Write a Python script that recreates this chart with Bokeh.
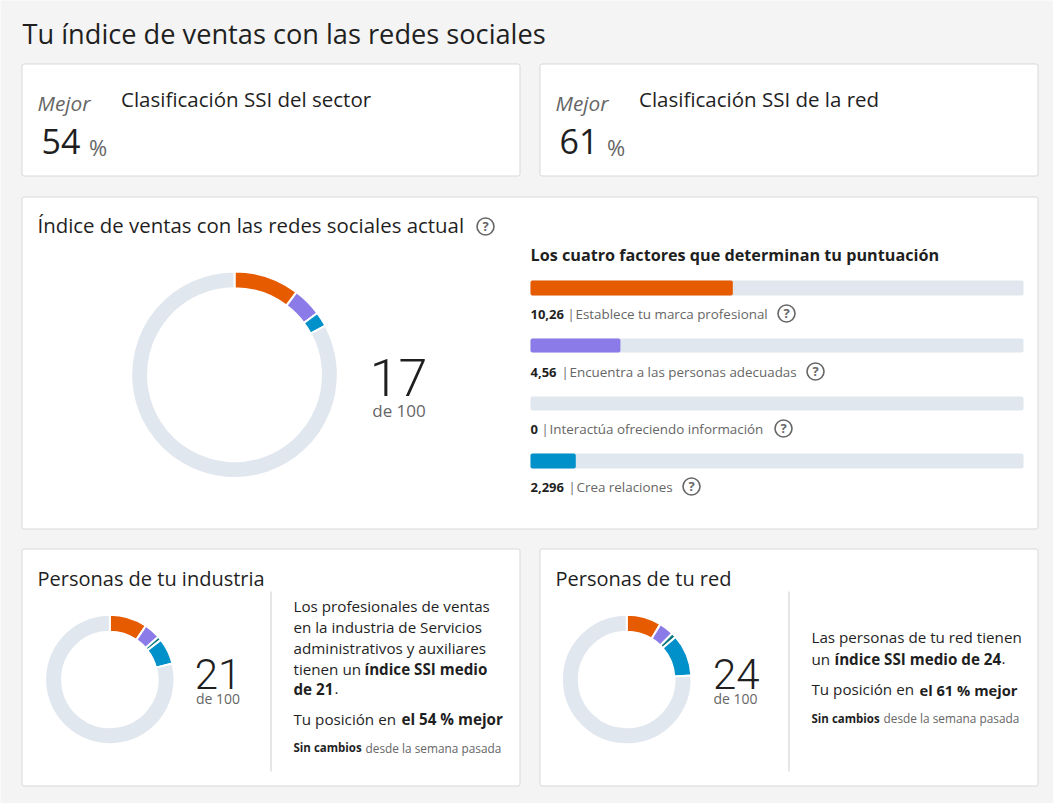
from math import pi
from bokeh.plotting import figure
from bokeh.embed import file_html
from bokeh.resources import INLINE
from bokeh.core.properties import value
from bokeh.models import Range1d

# ---- data ----
page_title = "Tu índice de ventas con las redes sociales"
rank_titles = ["Clasificación SSI del sector", "Clasificación SSI de la red"]
rank_values = [54, 61]
main_title = "Índice de ventas con las redes sociales actual"
factors_title = "Los cuatro factores que determinan tu puntuación"
factor_names = ["Establece tu marca profesional", "Encuentra a las personas adecuadas",
                "Interactúa ofreciendo información", "Crea relaciones"]
factor_values = [10.26, 4.56, 0, 2.296]
factor_labels = ["10,26", "4,56", "0", "2,296"]
factor_max = 25
main_score = 17
industry_values = [9.4, 4.1, 1.0, 6.5]
industry_score = 21
network_values = [8.7, 3.7, 1.2, 10.4]
network_score = 24
donut_total = 100

ORANGE, PURPLE, TEAL, BLUE, TRACK = "#e65a00", "#8a7be8", "#0d7a80", "#0091ca", "#e1e7ee"
main_colors = [ORANGE, PURPLE, BLUE]
peer_colors = [ORANGE, PURPLE, TEAL, BLUE]
BG, BORDER, INK, GREY = "#f4f4f4", "#d9d9d9", "#1f1f1f", "#666666"
FONT = "Open Sans"
LIGHT = "Roboto Light"

p = figure(width=1053, height=803, output_backend="svg", toolbar_location=None,
           x_range=Range1d(1, 1054), y_range=Range1d(804, 1),
           min_border=0, background_fill_color=BG, border_fill_color=BG, outline_line_color=None)
p.axis.visible = False
p.grid.visible = False


def txt(x, y, s, size, color=INK, style="normal", align="left", font=FONT):
    p.text([x], [y - 0.4 * size], text=[s], text_font=value(font), text_font_size=f"{size}px",
           text_font_style=style, text_color=color, text_align=align, text_baseline="alphabetic")


def card(l, t, r, b):
    p.quad(left=[l], right=[r], top=[t], bottom=[b], fill_color="white",
           line_color=BORDER, line_width=1, border_radius=2)


def ring(cx, cy, outer, inner, a, b, c):
    # values run clockwise from twelve o'clock
    sa = pi / 2 - 2 * pi * b / donut_total
    ea = pi / 2 - 2 * pi * a / donut_total
    p.annular_wedge([cx], [cy], inner_radius=inner - 1, outer_radius=outer + 1,
                    start_angle=[sa], end_angle=[ea], fill_color=c,
                    line_color="white", line_width=2)


def donut(cx, cy, outer, inner, vals, colors):
    start = 0.0
    for v, c in zip(vals, colors):
        end = start + v
        ring(cx, cy, outer, inner, start, end, c)
        start = end
    ring(cx, cy, outer, inner, start, donut_total, TRACK)


def help_icon(x, y):
    p.scatter([x], [y], size=17, marker="circle", fill_color=None, line_color=GREY, line_width=1.6)
    txt(x, y + 4.5, "?", 13, GREY, "bold", "center")


# page title
txt(23, 45, page_title, 27.2)

# rank cards
for i, (l, r) in enumerate([(22.5, 520.5), (540.5, 1038.5)]):
    card(l, 64.5, r, 176.5)
    txt(l + 15.5, 112, "Mejor", 20.8, GREY, "italic")
    txt(l + 19.5, 156, str(rank_values[i]), 34)
    txt(l + 67, 156, "%", 22, GREY)
    txt(l + 99, 108, rank_titles[i], 20.5)

# main card
card(22.5, 197.5, 1038.5, 529.5)
txt(38, 234, main_title, 20.4)
help_icon(486, 227)
donut(235, 375.2, 102.3, 87.5, [v for v in factor_values if v > 0], main_colors)
txt(399, 399, str(main_score), 52, INK, "normal", "center", LIGHT)
txt(399.5, 418, "de 100", 17, GREY, "normal", "center")

# factor bars
txt(531, 262, factors_title, 16.2, INK, "bold")
bar_l, bar_r = 531, 1024
bar_tops = [281, 339, 397, 454]
bar_heights = [15, 14, 14, 15]
bar_colors = [ORANGE, PURPLE, TEAL, BLUE]
label_base = [320, 378, 435, 493]
sep_x = [568, 562, 542, 569]
name_x = [576, 570, 550, 577]
icon_x = [787, 816, 784, 692]
for i, v in enumerate(factor_values):
    t = bar_tops[i]
    h = bar_heights[i]
    p.quad(left=[bar_l], right=[bar_r], top=[t], bottom=[t + h], fill_color=TRACK,
           line_color=None, border_radius=2)
    if v > 0:
        p.quad(left=[bar_l], right=[bar_l + (bar_r - bar_l) * v / factor_max], top=[t], bottom=[t + h],
               fill_color=bar_colors[i], line_color=None, border_radius=2)
    txt(bar_l, label_base[i], factor_labels[i], 13, INK, "bold")
    txt(sep_x[i], label_base[i], "|", 13, GREY)
    txt(name_x[i], label_base[i], factor_names[i], 13.4, GREY)
    help_icon(icon_x[i], label_base[i] - 6)

# industry card
card(22.5, 549.5, 520.5, 786.5)
txt(38, 587, "Personas de tu industria", 20)
p.segment([271.5], [592], [271.5], [772], line_color="#cccccc", line_width=1)
donut(110.3, 680, 63.7, 48.7, industry_values, peer_colors)
txt(218.5, 691, str(industry_score), 42, INK, "normal", "center", LIGHT)
txt(218.5, 705, "de 100", 14, GREY, "normal", "center")
for y, s in zip([612.5, 634, 654.5], ["Los profesionales de ventas", "en la industria de Servicios",
                                      "administrativos y auxiliares"]):
    txt(294, y, s, 15.2)
txt(294, 675.5, "tienen un", 15.2)
txt(365, 675.5, "índice SSI medio", 15.2, INK, "bold")
txt(294, 695.5, "de 21", 15.2, INK, "bold")
txt(335, 695.5, ".", 15.2)
txt(294, 726, "Tu posición en", 15.2)
txt(402, 726, "el 54 % mejor", 15.2, INK, "bold")
txt(294, 753, "Sin cambios", 11.5, INK, "bold")
txt(366, 753, "desde la semana pasada", 11.85, GREY)

# network card
card(540.5, 549.5, 1038.5, 786.5)
txt(556, 587, "Personas de tu red", 20)
p.segment([789.5], [592], [789.5], [772], line_color="#cccccc", line_width=1)
donut(627.2, 680, 63.8, 48.8, network_values, peer_colors)
txt(736.7, 691, str(network_score), 42, INK, "normal", "center", LIGHT)
txt(736, 705, "de 100", 14, GREY, "normal", "center")
txt(812, 644, "Las personas de tu red tienen", 15.2)
txt(812, 665.5, "un", 15.2)
txt(835, 665.5, "índice SSI medio de 24", 15.2, INK, "bold")
txt(1002, 665.5, ".", 15.2)
txt(812, 696, "Tu posición en", 15.2)
txt(920, 696, "el 61 % mejor", 14.7, INK, "bold")
txt(812, 723.5, "Sin cambios", 11.5, INK, "bold")
txt(884, 723.5, "desde la semana pasada", 11.85, GREY)

open("out.html", "w").write(file_html(p, INLINE))
